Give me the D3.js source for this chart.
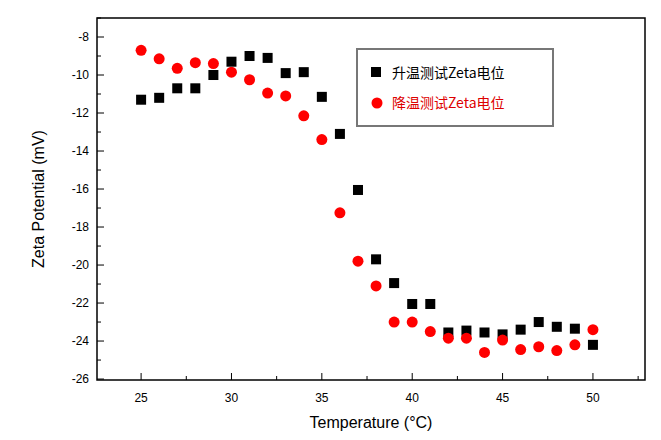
<!DOCTYPE html>
<html><head><meta charset="utf-8">
<script src="https://cdn.jsdelivr.net/npm/d3@7"></script>
<style>body{margin:0;background:#fff}</style>
</head><body>
<svg id="c" width="661" height="440"></svg>
<script>
const temps = [25,26,27,28,29,30,31,32,33,34,35,36,37,38,39,40,41,42,43,44,45,46,47,48,49,50];
const heating = [-11.3,-11.2,-10.7,-10.7,-10.0,-9.3,-9.0,-9.1,-9.9,-9.85,-11.15,-13.1,-16.05,-19.7,-20.95,-22.05,-22.05,-23.55,-23.45,-23.55,-23.65,-23.4,-23.0,-23.25,-23.35,-24.2];
const cooling = [-8.7,-9.15,-9.65,-9.35,-9.4,-9.85,-10.25,-10.95,-11.1,-12.15,-13.4,-17.25,-19.8,-21.1,-23.0,-23.0,-23.5,-23.85,-23.85,-24.6,-23.95,-24.45,-24.3,-24.5,-24.2,-23.4];
const xTicks = [25,30,35,40,45,50];
const yTicks = [-8,-10,-12,-14,-16,-18,-20,-22,-24,-26];

const pLeft = 97, pRight = 645, pTop = 18, pBottom = 380;
const svg = d3.select("#c");
const x = d3.scaleLinear().domain([22.56, 52.88]).range([pLeft, pRight]);
const y = d3.scaleLinear().domain([-7, -26.05]).range([pTop, pBottom]);
const font = "Arial, 'Liberation Sans', sans-serif";

// inward ticks, majors + minors
const xMinor = d3.range(22.5, 53, 2.5).filter(v => v > 22.56 && v < 52.88);
svg.selectAll(".xt").data(xMinor).join("line")
	.attr("x1", d => x(d)).attr("x2", d => x(d))
	.attr("y1", pBottom).attr("y2", d => pBottom - (d % 5 === 0 ? 7 : 4))
	.attr("stroke", "#000");
const yMinor = d3.range(-26, -6.9, 1);
svg.selectAll(".yt").data(yMinor).join("line")
	.attr("x1", pLeft).attr("x2", d => pLeft + (d % 2 === 0 ? 7 : 4))
	.attr("y1", d => y(d)).attr("y2", d => y(d))
	.attr("stroke", "#000");

svg.append("rect").attr("x", pLeft).attr("y", pTop)
	.attr("width", pRight - pLeft).attr("height", pBottom - pTop)
	.attr("fill", "none").attr("stroke", "#000").attr("stroke-width", 1.5);

svg.selectAll(".xl").data(xTicks).join("text")
	.attr("x", d => x(d)).attr("y", pBottom + 22).attr("text-anchor", "middle")
	.attr("font-family", font).attr("font-size", 12).text(d => d);
svg.selectAll(".yl").data(yTicks).join("text")
	.attr("x", pLeft - 8).attr("y", d => y(d) + 4).attr("text-anchor", "end")
	.attr("font-family", font).attr("font-size", 12).text(d => d);

svg.append("text").attr("x", (pLeft + pRight) / 2).attr("y", 428).attr("text-anchor", "middle")
	.attr("font-family", font).attr("font-size", 16).text("Temperature (°C)");
svg.append("text").attr("transform", `translate(44,${(pTop + pBottom) / 2}) rotate(-90)`)
	.attr("text-anchor", "middle").attr("font-family", font).attr("font-size", 16)
	.text("Zeta Potential (mV)");

svg.selectAll(".sq").data(temps).join("rect")
	.attr("x", (d, i) => x(d) - 5).attr("y", (d, i) => y(heating[i]) - 5)
	.attr("width", 10).attr("height", 10).attr("fill", "#000");
svg.selectAll(".ci").data(temps).join("circle")
	.attr("cx", d => x(d)).attr("cy", (d, i) => y(cooling[i])).attr("r", 5.5)
	.attr("fill", "#f00");

// legend
const lg = svg.append("g");
lg.append("rect").attr("x", 357).attr("y", 49).attr("width", 196).attr("height", 77)
	.attr("fill", "#fff").attr("stroke", "#777").attr("stroke-width", 2);
lg.append("rect").attr("x", 371).attr("y", 67).attr("width", 10).attr("height", 10).attr("fill", "#000");
lg.append("circle").attr("cx", 377).attr("cy", 103).attr("r", 5.5).attr("fill", "#f00");
lg.append("text").attr("x", 392).attr("y", 78).attr("font-family", "'Noto Sans CJK SC', sans-serif")
	.attr("font-size", 14).attr("fill", "#000").text("升温测试Zeta电位");
lg.append("text").attr("x", 392).attr("y", 108).attr("font-family", "'Noto Sans CJK SC', sans-serif")
	.attr("font-size", 14).attr("fill", "#d00").text("降温测试Zeta电位");
</script>
</body></html>
